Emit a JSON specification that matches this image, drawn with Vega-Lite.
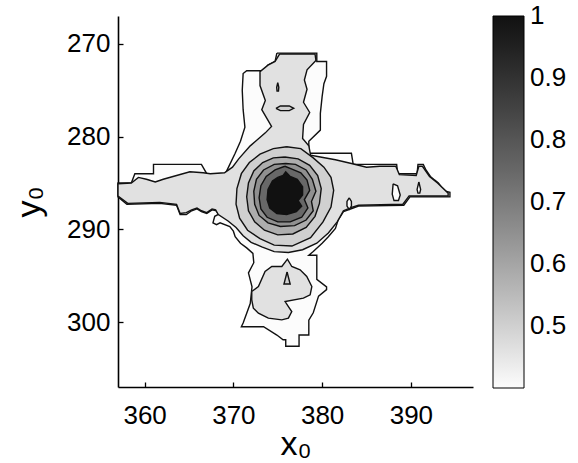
{
  "$schema": "https://vega.github.io/schema/vega-lite/v6.json",
  "autosize": {"type": "none"},
  "padding": {"left": 118, "top": 16, "right": 105, "bottom": 76},
  "width": 355,
  "height": 371,
  "background": "white",
  "config": {
    "view": {"stroke": null},
    "axis": {"domainColor": "#000", "domainWidth": 1.6, "tickColor": "#000", "tickWidth": 1.3, "tickSize": -5, "labelFont": "Liberation Sans", "labelFontSize": 26, "labelColor": "#000", "titleFont": "Liberation Sans", "titleFontSize": 34, "titleFontWeight": "normal", "titleColor": "#000", "grid": false},
    "legend": {"labelFont": "Liberation Sans", "labelFontSize": 26, "labelColor": "#000"}
  },
  "data": {"values": [
    {"p":"outer","v":0.4,"x":374.9,"y":271.0},{"p":"outer","v":0.4,"x":379.4,"y":271.0},{"p":"outer","v":0.4,"x":379.4,"y":271.9},{"p":"outer","v":0.4,"x":380.5,"y":271.9},{"p":"outer","v":0.4,"x":380.5,"y":273.5},{"p":"outer","v":0.4,"x":380.2,"y":274.3},{"p":"outer","v":0.4,"x":380.0,"y":275.7},{"p":"outer","v":0.4,"x":379.8,"y":277.5},{"p":"outer","v":0.4,"x":379.8,"y":279.3},{"p":"outer","v":0.4,"x":378.5,"y":280.5},{"p":"outer","v":0.4,"x":378.5,"y":281.8},{"p":"outer","v":0.4,"x":383.3,"y":281.8},{"p":"outer","v":0.4,"x":383.5,"y":283.0},{"p":"outer","v":0.4,"x":388.4,"y":283.0},{"p":"outer","v":0.4,"x":388.5,"y":284.0},{"p":"outer","v":0.4,"x":390.7,"y":284.0},{"p":"outer","v":0.4,"x":390.8,"y":283.0},{"p":"outer","v":0.4,"x":391.4,"y":283.0},{"p":"outer","v":0.4,"x":391.7,"y":283.6},{"p":"outer","v":0.4,"x":392.2,"y":284.3},{"p":"outer","v":0.4,"x":392.7,"y":284.7},{"p":"outer","v":0.4,"x":393.1,"y":285.0},{"p":"outer","v":0.4,"x":393.5,"y":285.5},{"p":"outer","v":0.4,"x":393.9,"y":285.9},{"p":"outer","v":0.4,"x":394.4,"y":286.0},{"p":"outer","v":0.4,"x":394.4,"y":286.5},{"p":"outer","v":0.4,"x":389.9,"y":286.5},{"p":"outer","v":0.4,"x":389.2,"y":287.4},{"p":"outer","v":0.4,"x":384.1,"y":287.5},{"p":"outer","v":0.4,"x":383.5,"y":287.7},{"p":"outer","v":0.4,"x":382.4,"y":288.1},{"p":"outer","v":0.4,"x":381.8,"y":289.0},{"p":"outer","v":0.4,"x":381.5,"y":289.9},{"p":"outer","v":0.4,"x":380.7,"y":290.8},{"p":"outer","v":0.4,"x":380.0,"y":291.5},{"p":"outer","v":0.4,"x":379.0,"y":292.4},{"p":"outer","v":0.4,"x":378.5,"y":292.8},{"p":"outer","v":0.4,"x":379.4,"y":292.8},{"p":"outer","v":0.4,"x":379.4,"y":295.4},{"p":"outer","v":0.4,"x":380.5,"y":296.2},{"p":"outer","v":0.4,"x":380.5,"y":296.5},{"p":"outer","v":0.4,"x":379.6,"y":297.2},{"p":"outer","v":0.4,"x":379.0,"y":299.0},{"p":"outer","v":0.4,"x":378.5,"y":299.8},{"p":"outer","v":0.4,"x":378.5,"y":301.4},{"p":"outer","v":0.4,"x":377.4,"y":301.4},{"p":"outer","v":0.4,"x":377.4,"y":302.6},{"p":"outer","v":0.4,"x":375.9,"y":302.6},{"p":"outer","v":0.4,"x":375.9,"y":301.9},{"p":"outer","v":0.4,"x":375.6,"y":301.9},{"p":"outer","v":0.4,"x":374.9,"y":301.4},{"p":"outer","v":0.4,"x":373.4,"y":300.5},{"p":"outer","v":0.4,"x":370.9,"y":300.5},{"p":"outer","v":0.4,"x":371.1,"y":300.1},{"p":"outer","v":0.4,"x":371.9,"y":298.0},{"p":"outer","v":0.4,"x":372.1,"y":296.2},{"p":"outer","v":0.4,"x":371.7,"y":294.7},{"p":"outer","v":0.4,"x":372.3,"y":293.6},{"p":"outer","v":0.4,"x":372.2,"y":292.6},{"p":"outer","v":0.4,"x":371.5,"y":292.0},{"p":"outer","v":0.4,"x":370.8,"y":291.5},{"p":"outer","v":0.4,"x":370.2,"y":290.8},{"p":"outer","v":0.4,"x":370.0,"y":290.2},{"p":"outer","v":0.4,"x":369.6,"y":289.7},{"p":"outer","v":0.4,"x":368.5,"y":289.3},{"p":"outer","v":0.4,"x":368.1,"y":289.5},{"p":"outer","v":0.4,"x":367.7,"y":289.3},{"p":"outer","v":0.4,"x":367.9,"y":288.6},{"p":"outer","v":0.4,"x":368.3,"y":288.4},{"p":"outer","v":0.4,"x":368.1,"y":288.0},{"p":"outer","v":0.4,"x":367.6,"y":287.9},{"p":"outer","v":0.4,"x":367.0,"y":288.3},{"p":"outer","v":0.4,"x":366.4,"y":288.1},{"p":"outer","v":0.4,"x":365.9,"y":287.8},{"p":"outer","v":0.4,"x":365.3,"y":288.0},{"p":"outer","v":0.4,"x":364.7,"y":288.4},{"p":"outer","v":0.4,"x":364.0,"y":288.4},{"p":"outer","v":0.4,"x":363.6,"y":287.4},{"p":"outer","v":0.4,"x":361.7,"y":287.2},{"p":"outer","v":0.4,"x":358.0,"y":287.3},{"p":"outer","v":0.4,"x":357.0,"y":286.5},{"p":"outer","v":0.4,"x":357.0,"y":285.0},{"p":"outer","v":0.4,"x":358.5,"y":285.0},{"p":"outer","v":0.4,"x":358.9,"y":284.0},{"p":"outer","v":0.4,"x":361.0,"y":284.0},{"p":"outer","v":0.4,"x":361.0,"y":283.0},{"p":"outer","v":0.4,"x":366.4,"y":283.0},{"p":"outer","v":0.4,"x":367.0,"y":284.0},{"p":"outer","v":0.4,"x":369.1,"y":284.0},{"p":"outer","v":0.4,"x":369.6,"y":283.0},{"p":"outer","v":0.4,"x":370.2,"y":281.8},{"p":"outer","v":0.4,"x":370.8,"y":280.5},{"p":"outer","v":0.4,"x":371.3,"y":279.0},{"p":"outer","v":0.4,"x":371.1,"y":277.1},{"p":"outer","v":0.4,"x":371.0,"y":275.0},{"p":"outer","v":0.4,"x":371.1,"y":273.2},{"p":"outer","v":0.4,"x":371.5,"y":272.9},{"p":"outer","v":0.4,"x":373.4,"y":272.9},{"p":"outer","v":0.4,"x":373.9,"y":272.3},{"p":"outer","v":0.4,"x":374.7,"y":271.9},{"p":"outer","v":0.4,"x":374.9,"y":271.0},

    {"p":"gray1","v":0.46,"x":375.2,"y":271.1},{"p":"gray1","v":0.46,"x":379.2,"y":271.1},{"p":"gray1","v":0.46,"x":379.3,"y":271.8},{"p":"gray1","v":0.46,"x":378.3,"y":272.8},{"p":"gray1","v":0.46,"x":378.0,"y":273.9},{"p":"gray1","v":0.46,"x":378.3,"y":274.9},{"p":"gray1","v":0.46,"x":377.9,"y":276.3},{"p":"gray1","v":0.46,"x":378.6,"y":277.4},{"p":"gray1","v":0.46,"x":377.9,"y":278.7},{"p":"gray1","v":0.46,"x":377.8,"y":280.2},{"p":"gray1","v":0.46,"x":378.5,"y":281.0},{"p":"gray1","v":0.46,"x":378.7,"y":282.0},{"p":"gray1","v":0.46,"x":379.8,"y":282.2},{"p":"gray1","v":0.46,"x":381.5,"y":282.5},{"p":"gray1","v":0.46,"x":383.3,"y":282.9},{"p":"gray1","v":0.46,"x":385.0,"y":283.3},{"p":"gray1","v":0.46,"x":386.5,"y":283.2},{"p":"gray1","v":0.46,"x":388.3,"y":283.2},{"p":"gray1","v":0.46,"x":388.7,"y":284.1},{"p":"gray1","v":0.46,"x":390.6,"y":284.2},{"p":"gray1","v":0.46,"x":390.9,"y":283.2},{"p":"gray1","v":0.46,"x":391.3,"y":283.2},{"p":"gray1","v":0.46,"x":392.1,"y":284.3},{"p":"gray1","v":0.46,"x":393.0,"y":285.0},{"p":"gray1","v":0.46,"x":394.2,"y":286.1},{"p":"gray1","v":0.46,"x":394.2,"y":286.4},{"p":"gray1","v":0.46,"x":389.8,"y":286.4},{"p":"gray1","v":0.46,"x":389.1,"y":287.3},{"p":"gray1","v":0.46,"x":384.1,"y":287.4},{"p":"gray1","v":0.46,"x":383.4,"y":287.6},{"p":"gray1","v":0.46,"x":382.4,"y":288.0},{"p":"gray1","v":0.46,"x":381.7,"y":289.2},{"p":"gray1","v":0.46,"x":380.7,"y":290.4},{"p":"gray1","v":0.46,"x":379.4,"y":291.5},{"p":"gray1","v":0.46,"x":377.8,"y":292.2},{"p":"gray1","v":0.46,"x":376.2,"y":292.5},{"p":"gray1","v":0.46,"x":374.6,"y":292.4},{"p":"gray1","v":0.46,"x":373.2,"y":291.9},{"p":"gray1","v":0.46,"x":372.0,"y":291.4},{"p":"gray1","v":0.46,"x":371.1,"y":290.7},{"p":"gray1","v":0.46,"x":370.3,"y":289.8},{"p":"gray1","v":0.46,"x":369.4,"y":289.1},{"p":"gray1","v":0.46,"x":368.3,"y":288.4},{"p":"gray1","v":0.46,"x":368.0,"y":287.9},{"p":"gray1","v":0.46,"x":367.6,"y":287.8},{"p":"gray1","v":0.46,"x":367.0,"y":288.2},{"p":"gray1","v":0.46,"x":366.4,"y":288.0},{"p":"gray1","v":0.46,"x":365.9,"y":287.7},{"p":"gray1","v":0.46,"x":365.3,"y":287.9},{"p":"gray1","v":0.46,"x":364.7,"y":288.2},{"p":"gray1","v":0.46,"x":364.0,"y":288.3},{"p":"gray1","v":0.46,"x":363.6,"y":287.3},{"p":"gray1","v":0.46,"x":361.7,"y":287.1},{"p":"gray1","v":0.46,"x":358.1,"y":287.2},{"p":"gray1","v":0.46,"x":357.0,"y":286.4},{"p":"gray1","v":0.46,"x":357.0,"y":285.1},{"p":"gray1","v":0.46,"x":358.5,"y":285.0},{"p":"gray1","v":0.46,"x":359.3,"y":284.4},{"p":"gray1","v":0.46,"x":360.2,"y":284.6},{"p":"gray1","v":0.46,"x":361.2,"y":284.9},{"p":"gray1","v":0.46,"x":362.1,"y":284.6},{"p":"gray1","v":0.46,"x":363.6,"y":284.2},{"p":"gray1","v":0.46,"x":365.1,"y":283.8},{"p":"gray1","v":0.46,"x":366.6,"y":283.9},{"p":"gray1","v":0.46,"x":367.4,"y":284.0},{"p":"gray1","v":0.46,"x":369.0,"y":283.9},{"p":"gray1","v":0.46,"x":369.9,"y":283.3},{"p":"gray1","v":0.46,"x":370.6,"y":282.4},{"p":"gray1","v":0.46,"x":371.9,"y":281.0},{"p":"gray1","v":0.46,"x":373.6,"y":279.6},{"p":"gray1","v":0.46,"x":374.3,"y":278.9},{"p":"gray1","v":0.46,"x":373.2,"y":277.1},{"p":"gray1","v":0.46,"x":373.6,"y":276.1},{"p":"gray1","v":0.46,"x":373.0,"y":274.5},{"p":"gray1","v":0.46,"x":373.0,"y":273.0},{"p":"gray1","v":0.46,"x":373.9,"y":272.3},{"p":"gray1","v":0.46,"x":374.7,"y":271.9},{"p":"gray1","v":0.46,"x":375.2,"y":271.1},

    {"p":"gray2","v":0.46,"x":372.07,"y":296.71},{"p":"gray2","v":0.46,"x":372.82,"y":296.17},{"p":"gray2","v":0.46,"x":373.57,"y":294.55},{"p":"gray2","v":0.46,"x":374.33,"y":294.01},{"p":"gray2","v":0.46,"x":375.46,"y":294.01},{"p":"gray2","v":0.46,"x":376.09,"y":293.22},{"p":"gray2","v":0.46,"x":376.58,"y":294.01},{"p":"gray2","v":0.46,"x":377.52,"y":294.37},{"p":"gray2","v":0.46,"x":378.27,"y":295.09},{"p":"gray2","v":0.46,"x":378.84,"y":296.17},{"p":"gray2","v":0.46,"x":378.65,"y":297.06},{"p":"gray2","v":0.46,"x":377.89,"y":297.42},{"p":"gray2","v":0.46,"x":375.83,"y":297.79},{"p":"gray2","v":0.46,"x":376.2,"y":298.33},{"p":"gray2","v":0.46,"x":376.58,"y":298.86},{"p":"gray2","v":0.46,"x":376.2,"y":299.58},{"p":"gray2","v":0.46,"x":375.46,"y":299.76},{"p":"gray2","v":0.46,"x":373.94,"y":299.58},{"p":"gray2","v":0.46,"x":372.82,"y":299.04},{"p":"gray2","v":0.46,"x":372.25,"y":298.5},{"p":"gray2","v":0.46,"x":372.07,"y":297.6},{"p":"gray2","v":0.46,"x":372.07,"y":296.71},

    {"p":"hole1","v":0.4,"x":388.0,"y":285.1},{"p":"hole1","v":0.4,"x":388.5,"y":285.3},{"p":"hole1","v":0.4,"x":388.8,"y":286.3},{"p":"hole1","v":0.4,"x":388.6,"y":286.9},{"p":"hole1","v":0.4,"x":388.1,"y":286.9},{"p":"hole1","v":0.4,"x":387.9,"y":286.2},{"p":"hole1","v":0.4,"x":388.0,"y":285.1},
    {"p":"hole2","v":0.4,"x":390.9,"y":284.9},{"p":"hole2","v":0.4,"x":391.1,"y":285.7},{"p":"hole2","v":0.4,"x":391.0,"y":286.1},{"p":"hole2","v":0.4,"x":390.8,"y":286.1},{"p":"hole2","v":0.4,"x":390.7,"y":285.7},{"p":"hole2","v":0.4,"x":390.9,"y":284.9},
    {"p":"hole3","v":0.4,"x":383.05,"y":286.6},{"p":"hole3","v":0.4,"x":383.3,"y":287.0},{"p":"hole3","v":0.4,"x":383.3,"y":287.5},{"p":"hole3","v":0.4,"x":383.05,"y":287.85},{"p":"hole3","v":0.4,"x":382.8,"y":287.5},{"p":"hole3","v":0.4,"x":382.8,"y":287.0},{"p":"hole3","v":0.4,"x":383.05,"y":286.6},

    {"p":"isl1","v":0.5,"x":375.0,"y":274.2},{"p":"isl1","v":0.5,"x":375.12,"y":274.7},{"p":"isl1","v":0.5,"x":375.08,"y":275.1},{"p":"isl1","v":0.5,"x":374.92,"y":275.1},{"p":"isl1","v":0.5,"x":374.88,"y":274.7},{"p":"isl1","v":0.5,"x":375.0,"y":274.2},
    {"p":"isl2","v":0.5,"x":374.8,"y":276.95},{"p":"isl2","v":0.5,"x":375.3,"y":276.7},{"p":"isl2","v":0.5,"x":376.3,"y":276.7},{"p":"isl2","v":0.5,"x":376.8,"y":276.95},{"p":"isl2","v":0.5,"x":376.3,"y":277.2},{"p":"isl2","v":0.5,"x":375.3,"y":277.2},{"p":"isl2","v":0.5,"x":374.8,"y":276.95},
    {"p":"isl3","v":0.5,"x":376.05,"y":294.6},{"p":"isl3","v":0.5,"x":376.4,"y":295.9},{"p":"isl3","v":0.5,"x":375.7,"y":295.9},{"p":"isl3","v":0.5,"x":376.05,"y":294.6},

    {"p":"ringA","v":0.5,"x":376.0,"y":281.1},{"p":"ringA","v":0.5,"x":377.6,"y":281.3},{"p":"ringA","v":0.5,"x":379.0,"y":282.3},{"p":"ringA","v":0.5,"x":380.2,"y":283.3},{"p":"ringA","v":0.5,"x":381.0,"y":284.4},{"p":"ringA","v":0.5,"x":381.3,"y":285.8},{"p":"ringA","v":0.5,"x":381.0,"y":287.6},{"p":"ringA","v":0.5,"x":380.1,"y":289.2},{"p":"ringA","v":0.5,"x":378.7,"y":290.9},{"p":"ringA","v":0.5,"x":376.6,"y":291.8},{"p":"ringA","v":0.5,"x":374.6,"y":291.7},{"p":"ringA","v":0.5,"x":373.0,"y":291.0},{"p":"ringA","v":0.5,"x":371.6,"y":290.1},{"p":"ringA","v":0.5,"x":370.7,"y":288.8},{"p":"ringA","v":0.5,"x":370.3,"y":287.3},{"p":"ringA","v":0.5,"x":370.4,"y":285.6},{"p":"ringA","v":0.5,"x":370.9,"y":284.0},{"p":"ringA","v":0.5,"x":371.8,"y":282.8},{"p":"ringA","v":0.5,"x":373.0,"y":281.9},{"p":"ringA","v":0.5,"x":374.5,"y":281.3},{"p":"ringA","v":0.5,"x":376.0,"y":281.1},

    {"p":"ringB","v":0.58,"x":375.8,"y":282.2},{"p":"ringB","v":0.58,"x":377.3,"y":282.4},{"p":"ringB","v":0.58,"x":378.6,"y":283.1},{"p":"ringB","v":0.58,"x":379.5,"y":284.2},{"p":"ringB","v":0.58,"x":379.9,"y":285.6},{"p":"ringB","v":0.58,"x":379.7,"y":287.2},{"p":"ringB","v":0.58,"x":379.2,"y":288.6},{"p":"ringB","v":0.58,"x":378.2,"y":289.8},{"p":"ringB","v":0.58,"x":376.7,"y":290.5},{"p":"ringB","v":0.58,"x":375.0,"y":290.6},{"p":"ringB","v":0.58,"x":373.5,"y":290.1},{"p":"ringB","v":0.58,"x":372.4,"y":289.2},{"p":"ringB","v":0.58,"x":371.7,"y":288.0},{"p":"ringB","v":0.58,"x":371.5,"y":286.5},{"p":"ringB","v":0.58,"x":371.7,"y":285.0},{"p":"ringB","v":0.58,"x":372.3,"y":283.7},{"p":"ringB","v":0.58,"x":373.3,"y":282.8},{"p":"ringB","v":0.58,"x":374.5,"y":282.3},{"p":"ringB","v":0.58,"x":375.8,"y":282.2},

    {"p":"ringC","v":0.65,"x":375.9,"y":282.9},{"p":"ringC","v":0.65,"x":377.0,"y":283.0},{"p":"ringC","v":0.65,"x":378.2,"y":283.6},{"p":"ringC","v":0.65,"x":378.9,"y":284.6},{"p":"ringC","v":0.65,"x":379.3,"y":285.9},{"p":"ringC","v":0.65,"x":378.8,"y":287.0},{"p":"ringC","v":0.65,"x":379.0,"y":288.0},{"p":"ringC","v":0.65,"x":378.2,"y":289.0},{"p":"ringC","v":0.65,"x":376.9,"y":289.6},{"p":"ringC","v":0.65,"x":375.3,"y":289.7},{"p":"ringC","v":0.65,"x":373.9,"y":289.3},{"p":"ringC","v":0.65,"x":372.9,"y":288.5},{"p":"ringC","v":0.65,"x":372.4,"y":287.3},{"p":"ringC","v":0.65,"x":372.3,"y":285.9},{"p":"ringC","v":0.65,"x":372.6,"y":284.6},{"p":"ringC","v":0.65,"x":373.4,"y":283.6},{"p":"ringC","v":0.65,"x":374.6,"y":283.0},{"p":"ringC","v":0.65,"x":375.9,"y":282.9},

    {"p":"ringD","v":0.75,"x":375.8,"y":283.2},{"p":"ringD","v":0.75,"x":376.6,"y":283.5},{"p":"ringD","v":0.75,"x":377.6,"y":283.9},{"p":"ringD","v":0.75,"x":378.3,"y":284.7},{"p":"ringD","v":0.75,"x":378.6,"y":285.8},{"p":"ringD","v":0.75,"x":378.0,"y":286.8},{"p":"ringD","v":0.75,"x":378.4,"y":287.7},{"p":"ringD","v":0.75,"x":377.7,"y":288.7},{"p":"ringD","v":0.75,"x":376.4,"y":289.2},{"p":"ringD","v":0.75,"x":375.0,"y":289.2},{"p":"ringD","v":0.75,"x":373.8,"y":288.7},{"p":"ringD","v":0.75,"x":373.1,"y":287.8},{"p":"ringD","v":0.75,"x":372.9,"y":286.6},{"p":"ringD","v":0.75,"x":373.1,"y":285.3},{"p":"ringD","v":0.75,"x":373.7,"y":284.3},{"p":"ringD","v":0.75,"x":374.7,"y":283.6},{"p":"ringD","v":0.75,"x":375.8,"y":283.2},

    {"p":"core","v":1.0,"x":375.6,"y":284.2},{"p":"core","v":1.0,"x":375.9,"y":283.8},{"p":"core","v":1.0,"x":376.4,"y":284.3},{"p":"core","v":1.0,"x":377.2,"y":284.6},{"p":"core","v":1.0,"x":377.8,"y":285.4},{"p":"core","v":1.0,"x":377.8,"y":286.3},{"p":"core","v":1.0,"x":377.3,"y":286.9},{"p":"core","v":1.0,"x":377.7,"y":287.5},{"p":"core","v":1.0,"x":377.1,"y":288.1},{"p":"core","v":1.0,"x":376.0,"y":288.4},{"p":"core","v":1.0,"x":374.9,"y":288.3},{"p":"core","v":1.0,"x":374.1,"y":287.7},{"p":"core","v":1.0,"x":373.8,"y":286.8},{"p":"core","v":1.0,"x":373.9,"y":285.7},{"p":"core","v":1.0,"x":374.4,"y":284.8},{"p":"core","v":1.0,"x":375.0,"y":284.4},{"p":"core","v":1.0,"x":375.6,"y":284.2}
  ]},
  "encoding": {
    "x": {"field": "x", "type": "quantitative", "scale": {"domain": [357, 397], "nice": false, "zero": false},
      "axis": {"values": [360, 370, 380, 390], "title": "x₀", "labelPadding": 20, "titlePadding": -1}},
    "y": {"field": "y", "type": "quantitative", "scale": {"domain": [267, 307], "reverse": true, "nice": false, "zero": false},
      "axis": {"values": [270, 280, 290, 300], "title": "y₀", "labelPadding": 13, "titlePadding": 20}},
    "detail": {"field": "p"},
    "order": {"value": null},
    "fill": {"field": "v", "type": "quantitative",
      "scale": {"domain": [0.4, 1], "range": ["#fcfcfc", "#111111"]},
      "legend": {"title": null, "orient": "right", "offset": 20, "direction": "vertical", "gradientLength": 372, "gradientThickness": 31, "gradientStrokeColor": "#000", "gradientStrokeWidth": 1, "labelOffset": 6, "values": [0.5, 0.6, 0.7, 0.8, 0.9, 1], "format": ".1~f",
        "encode": {"labels": {"update": {"baseline": {"value": "middle"}}}}}}
  },
  "layer": [
    {"transform": [{"filter": "datum.p === 'outer'"}], "mark": {"type": "line", "stroke": "#111", "strokeWidth": 1.4}},
    {"transform": [{"filter": "datum.p === 'gray1' || datum.p === 'gray2'"}], "mark": {"type": "line", "stroke": "#111", "strokeWidth": 1.4}},
    {"transform": [{"filter": "datum.p === 'hole1' || datum.p === 'hole2' || datum.p === 'hole3'"}], "mark": {"type": "line", "stroke": "#111", "strokeWidth": 1.4}},
    {"transform": [{"filter": "datum.v === 0.5"}], "mark": {"type": "line", "stroke": "#111", "strokeWidth": 1.4}},
    {"transform": [{"filter": "datum.v === 0.58"}], "mark": {"type": "line", "stroke": "#111", "strokeWidth": 1.4}},
    {"transform": [{"filter": "datum.v === 0.65"}], "mark": {"type": "line", "stroke": "#111", "strokeWidth": 1.4}},
    {"transform": [{"filter": "datum.v === 0.75"}], "mark": {"type": "line", "stroke": "#111", "strokeWidth": 1.4}},
    {"transform": [{"filter": "datum.v === 1"}], "mark": {"type": "line", "stroke": "#111", "strokeWidth": 1.4}}
  ]
}
